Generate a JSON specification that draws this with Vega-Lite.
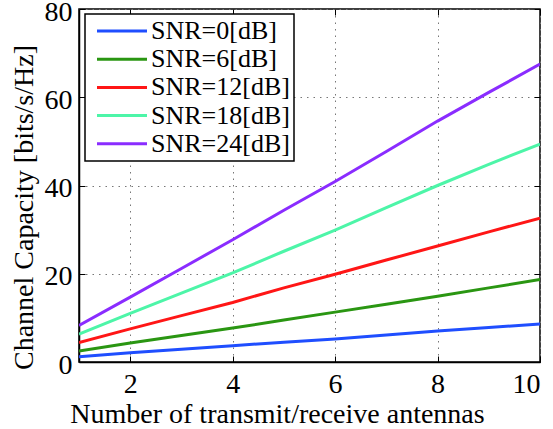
{
  "$schema": "https://vega.github.io/schema/vega-lite/v6.json",
  "width": 461,
  "height": 353,
  "autosize": {"type": "none"},
  "padding": {"left": 79, "top": 9, "right": 13, "bottom": 67},
  "background": "white",
  "config": {
    "font": "Liberation Serif",
    "view": {"stroke": "black", "strokeWidth": 1.5},
    "axis": {
      "labelFont": "Liberation Serif",
      "labelFontSize": 28,
      "labelColor": "black",
      "titleFont": "Liberation Serif",
      "titleFontSize": 28,
      "titleFontWeight": "normal",
      "titleColor": "black",
      "domainColor": "black",
      "domainWidth": 1.5,
      "tickColor": "black",
      "tickWidth": 1,
      "tickSize": -6,
      "gridColor": "#777777",
      "gridDash": [1.5, 5],
      "gridWidth": 1,
      "gridOpacity": 1
    },
    "legend": {
      "labelFont": "Liberation Serif",
      "labelFontSize": 26,
      "labelColor": "black",
      "strokeColor": "black",
      "strokeWidth": 1.5,
      "fillColor": "white"
    }
  },
  "data": {
    "values": [
      {"n": 1, "c": 1.2, "s": "SNR=0[dB]"},
      {"n": 2, "c": 2.1, "s": "SNR=0[dB]"},
      {"n": 3, "c": 2.9, "s": "SNR=0[dB]"},
      {"n": 4, "c": 3.7, "s": "SNR=0[dB]"},
      {"n": 5, "c": 4.5, "s": "SNR=0[dB]"},
      {"n": 6, "c": 5.2, "s": "SNR=0[dB]"},
      {"n": 7, "c": 6.1, "s": "SNR=0[dB]"},
      {"n": 8, "c": 7.0, "s": "SNR=0[dB]"},
      {"n": 9, "c": 7.8, "s": "SNR=0[dB]"},
      {"n": 10, "c": 8.6, "s": "SNR=0[dB]"},
      {"n": 1, "c": 2.5, "s": "SNR=6[dB]"},
      {"n": 2, "c": 4.3, "s": "SNR=6[dB]"},
      {"n": 3, "c": 6.0, "s": "SNR=6[dB]"},
      {"n": 4, "c": 7.7, "s": "SNR=6[dB]"},
      {"n": 5, "c": 9.5, "s": "SNR=6[dB]"},
      {"n": 6, "c": 11.3, "s": "SNR=6[dB]"},
      {"n": 7, "c": 13.1, "s": "SNR=6[dB]"},
      {"n": 8, "c": 14.9, "s": "SNR=6[dB]"},
      {"n": 9, "c": 16.8, "s": "SNR=6[dB]"},
      {"n": 10, "c": 18.7, "s": "SNR=6[dB]"},
      {"n": 1, "c": 4.4, "s": "SNR=12[dB]"},
      {"n": 2, "c": 7.5, "s": "SNR=12[dB]"},
      {"n": 3, "c": 10.5, "s": "SNR=12[dB]"},
      {"n": 4, "c": 13.5, "s": "SNR=12[dB]"},
      {"n": 5, "c": 16.8, "s": "SNR=12[dB]"},
      {"n": 6, "c": 19.9, "s": "SNR=12[dB]"},
      {"n": 7, "c": 23.1, "s": "SNR=12[dB]"},
      {"n": 8, "c": 26.3, "s": "SNR=12[dB]"},
      {"n": 9, "c": 29.5, "s": "SNR=12[dB]"},
      {"n": 10, "c": 32.6, "s": "SNR=12[dB]"},
      {"n": 1, "c": 6.3, "s": "SNR=18[dB]"},
      {"n": 2, "c": 11.0, "s": "SNR=18[dB]"},
      {"n": 3, "c": 15.6, "s": "SNR=18[dB]"},
      {"n": 4, "c": 20.2, "s": "SNR=18[dB]"},
      {"n": 5, "c": 25.1, "s": "SNR=18[dB]"},
      {"n": 6, "c": 29.9, "s": "SNR=18[dB]"},
      {"n": 7, "c": 35.0, "s": "SNR=18[dB]"},
      {"n": 8, "c": 40.0, "s": "SNR=18[dB]"},
      {"n": 9, "c": 44.8, "s": "SNR=18[dB]"},
      {"n": 10, "c": 49.4, "s": "SNR=18[dB]"},
      {"n": 1, "c": 8.3, "s": "SNR=24[dB]"},
      {"n": 2, "c": 14.7, "s": "SNR=24[dB]"},
      {"n": 3, "c": 21.2, "s": "SNR=24[dB]"},
      {"n": 4, "c": 27.7, "s": "SNR=24[dB]"},
      {"n": 5, "c": 34.4, "s": "SNR=24[dB]"},
      {"n": 6, "c": 40.9, "s": "SNR=24[dB]"},
      {"n": 7, "c": 47.7, "s": "SNR=24[dB]"},
      {"n": 8, "c": 54.6, "s": "SNR=24[dB]"},
      {"n": 9, "c": 61.1, "s": "SNR=24[dB]"},
      {"n": 10, "c": 67.5, "s": "SNR=24[dB]"}
    ]
  },
  "layer": [
    {
      "mark": {"type": "line", "strokeWidth": 3, "clip": true},
      "encoding": {
        "x": {
          "field": "n",
          "type": "quantitative",
          "scale": {"domain": [1, 10], "nice": false, "zero": false},
          "axis": {
            "values": [2, 4, 6, 8, 10],
            "title": "Number of transmit/receive antennas",
            "titleX": 198,
            "labelPadding": 14,
            "titlePadding": 2
          }
        },
        "y": {
          "field": "c",
          "type": "quantitative",
          "scale": {"domain": [0, 80], "nice": false},
          "axis": {
            "values": [0, 20, 40, 60, 80],
            "title": "Channel Capacity [bits/s/Hz]",
            "titleY": 198,
            "labelOffset": 3,
            "labelPadding": 13,
            "titlePadding": 6
          }
        },
        "color": {
          "field": "s",
          "type": "nominal",
          "scale": {
            "domain": ["SNR=0[dB]", "SNR=6[dB]", "SNR=12[dB]", "SNR=18[dB]", "SNR=24[dB]"],
            "range": ["#1f4eff", "#2a9612", "#ff1616", "#4df5a8", "#8a2cff"]
          },
          "legend": {
            "title": null,
            "orient": "none",
            "legendX": 6,
            "legendY": 5,
            "symbolType": "M-5,0L5,0",
            "symbolSize": 100,
            "symbolStrokeWidth": 3,
            "symbolOffset": 20,
            "labelOffset": 16,
            "rowPadding": 2.2,
            "padding": 4
          }
        }
      }
    },
    {
      "mark": {"type": "point", "opacity": 0},
      "encoding": {
        "x": {
          "field": "n",
          "type": "quantitative",
          "axis": {"orient": "top", "values": [2, 4, 6, 8, 10], "labels": false, "grid": false, "domain": false, "title": null}
        },
        "y": {
          "field": "c",
          "type": "quantitative",
          "axis": {"orient": "right", "values": [0, 20, 40, 60, 80], "labels": false, "grid": false, "domain": false, "title": null}
        }
      }
    }
  ],
  "resolve": {"axis": {"x": "independent", "y": "independent"}}
}
